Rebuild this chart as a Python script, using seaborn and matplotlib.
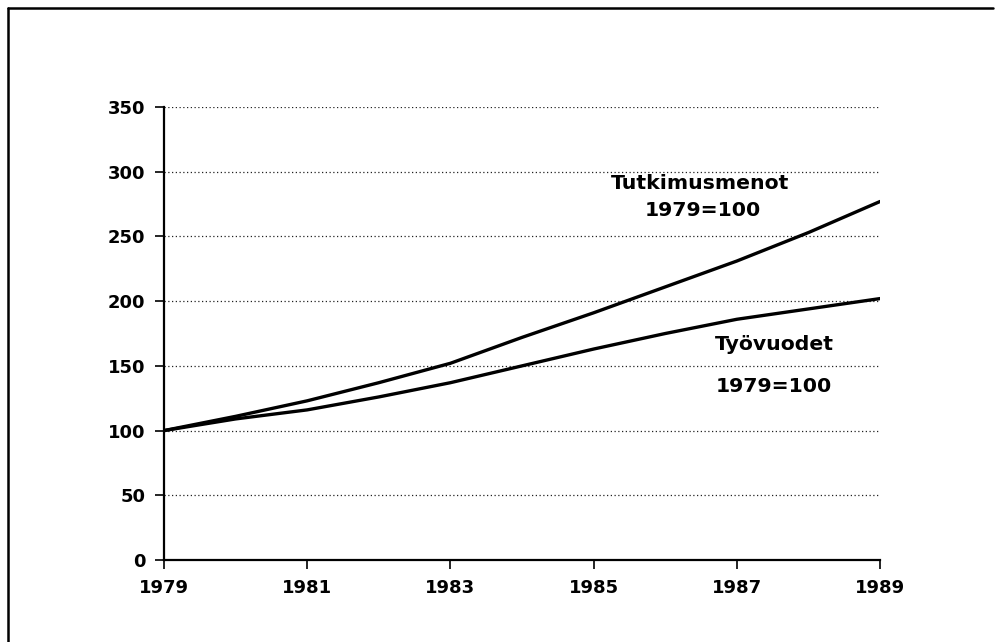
import matplotlib.pyplot as plt
import matplotlib.lines as mlines
import seaborn as sns
import pandas as pd

# values (index, 1979 = 100)
years = [1979, 1980, 1981, 1982, 1983, 1984, 1985, 1986, 1987, 1988, 1989]
tutkimusmenot = [100, 111, 123, 137, 152, 172, 191, 211, 231, 253, 277]
tyovuodet = [100, 109, 116, 126, 137, 150, 163, 175, 186, 194, 202]
xticks = [1979, 1981, 1983, 1985, 1987, 1989]
yticks = [0, 50, 100, 150, 200, 250, 300, 350]

df = pd.DataFrame({'vuosi': years, 'Tutkimusmenot': tutkimusmenot, 'Työvuodet': tyovuodet})

sns.set_style("white")
plt.rcParams['font.family'] = ['DejaVu Sans']
plt.rcParams['font.weight'] = 'bold'
plt.rcParams['text.color'] = 'black'

fig = plt.figure(figsize=(9.98, 6.42), dpi=100)
ax = fig.add_axes([0.1643, 0.1277, 0.8818 - 0.1643, 0.8333 - 0.1277])

sns.lineplot(data=df, x='vuosi', y='Tutkimusmenot', color='black', linewidth=2.4, ax=ax)
sns.lineplot(data=df, x='vuosi', y='Työvuodet', color='black', linewidth=2.4, ax=ax)

ax.set_xlim(1979, 1989)
ax.set_ylim(0, 350)
ax.set_xticks(xticks)
ax.set_yticks(yticks)
ax.set_xlabel('')
ax.set_ylabel('')
for t in yticks[1:]:
    ax.axhline(t, color='#222222', linewidth=0.9, linestyle=(0, (1, 2)), zorder=0)

sns.despine(ax=ax)
for s in ['left', 'bottom']:
    ax.spines[s].set_linewidth(1.6)
    ax.spines[s].set_color('black')
ax.tick_params(axis='both', direction='out', length=6.5, width=1.2, color='black',
               pad=7, labelsize=13, labelcolor='black', bottom=True, left=True)
for lab in ax.get_xticklabels() + ax.get_yticklabels():
    lab.set_fontweight('bold')

ax.text(1986.49, 291, 'Tutkimusmenot', ha='center', va='center', fontsize=14.7, fontweight='bold')
ax.text(1986.52, 270, '1979=100', ha='center', va='center', fontsize=14.7, fontweight='bold')
ax.text(1986.70, 166.5, 'Työvuodet', ha='left', va='center', fontsize=14.7, fontweight='bold')
ax.text(1986.70, 134, '1979=100', ha='left', va='center', fontsize=14.7, fontweight='bold')

# scanned page frame: top and left edges only
fig.add_artist(mlines.Line2D([0.008, 0.995], [0.987, 0.987], color='black', linewidth=1.8))
fig.add_artist(mlines.Line2D([0.008, 0.008], [0.0, 0.987], color='black', linewidth=1.8))

fig.savefig('out.png', dpi=100)
